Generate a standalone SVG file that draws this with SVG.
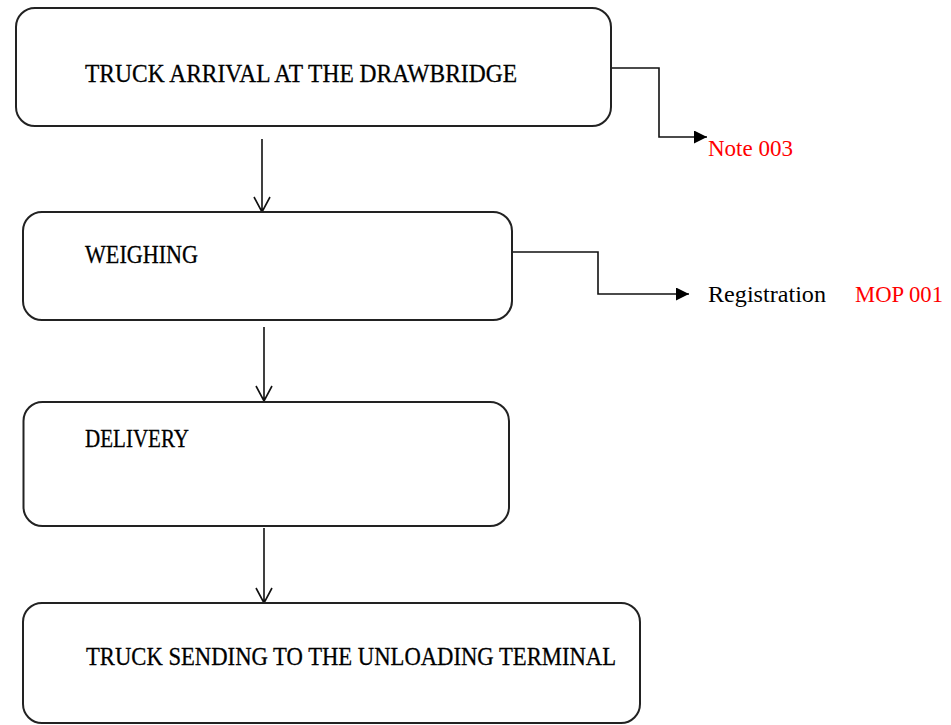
<svg xmlns="http://www.w3.org/2000/svg" width="951" height="725" viewBox="0 0 951 725">
<defs>
<style>
.box{fill:#fff;stroke:#222;stroke-width:2}
.t{font-family:"Liberation Serif","Times New Roman",serif;font-size:26px;fill:#000;stroke:#000;stroke-width:0.3}
.s{font-family:"Liberation Serif","Times New Roman",serif;font-size:24px}
.red{fill:#ff0000}
.ln{fill:none;stroke:#111;stroke-width:1.6}
</style>
<marker id="fill" markerWidth="13" markerHeight="13" refX="10" refY="5" orient="auto" markerUnits="userSpaceOnUse" viewBox="0 0 10 10">
<path d="M0,0 L10,5 L0,10 z" fill="#000"/>
</marker>
</defs>
<rect width="951" height="725" fill="#fff"/>
<g id="connectors">
<path class="ln" d="M262,139 V212 M254,197 L262,212 L270,197"/>
<path class="ln" d="M264,327 V401 M256,386 L264,401 L272,386"/>
<path class="ln" d="M264,528 V603 M256,588 L264,603 L272,588"/>
<path class="ln" d="M612,68 H659 V137 H707" marker-end="url(#fill)"/>
<path class="ln" d="M507,252 H598 V294 H689" marker-end="url(#fill)"/>
</g>
<g id="n1">
<rect class="box" x="16" y="8" width="595" height="118" rx="19"/>
<text class="t" x="85" y="82" textLength="432" lengthAdjust="spacingAndGlyphs">TRUCK ARRIVAL AT THE DRAWBRIDGE</text>
</g>
<g id="n2">
<rect class="box" x="23" y="212" width="489" height="108" rx="19"/>
<text class="t" x="85" y="263" textLength="113" lengthAdjust="spacingAndGlyphs">WEIGHING</text>
</g>
<g id="n3">
<rect class="box" x="23.5" y="402" width="485.5" height="124" rx="19"/>
<text class="t" x="85" y="447" textLength="104" lengthAdjust="spacingAndGlyphs">DELIVERY</text>
</g>
<g id="n4">
<rect class="box" x="23" y="603" width="617" height="120" rx="19"/>
<text class="t" x="86" y="665" textLength="530" lengthAdjust="spacingAndGlyphs">TRUCK SENDING TO THE UNLOADING TERMINAL</text>
</g>
<g id="note">
<text class="s red" x="708" y="156" textLength="85" lengthAdjust="spacingAndGlyphs">Note 003</text>
</g>
<g id="registration">
<text class="s" x="708" y="302" textLength="118" lengthAdjust="spacingAndGlyphs">Registration</text>
<text class="s red" x="855" y="302" textLength="88" lengthAdjust="spacingAndGlyphs">MOP 001</text>
</g>
</svg>
